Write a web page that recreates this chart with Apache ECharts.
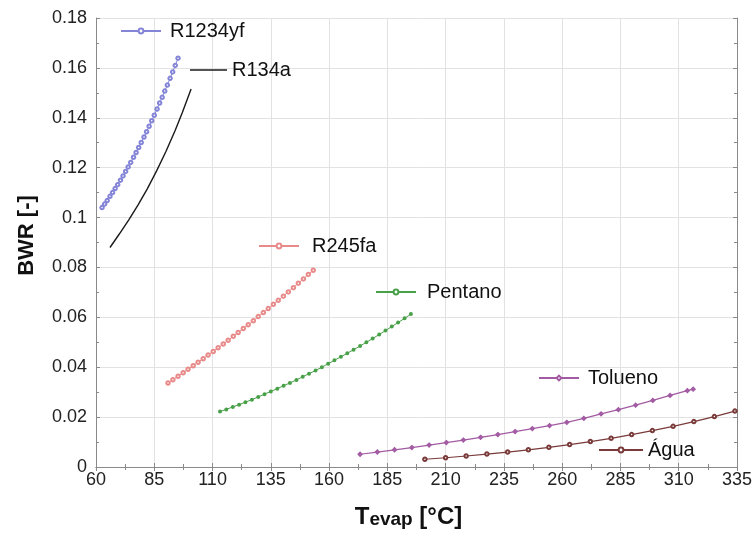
<!DOCTYPE html>
<html>
<head>
<meta charset="utf-8">
<script src="https://cdn.jsdelivr.net/npm/echarts@6/dist/echarts.min.js"></script>
<style>html,body{margin:0;padding:0;background:#fff;}#c{width:755px;height:535px;}</style>
</head>
<body>
<div id="c"></div>
<script>
// ---- data ----
const xTicks = [60, 85, 110, 135, 160, 185, 210, 235, 260, 285, 310, 335];
const yTicks = [0, 0.02, 0.04, 0.06, 0.08, 0.1, 0.12, 0.14, 0.16, 0.18];

const r1234yfT = [62.6,63.7,64.8,66.0,67.1,68.2,69.3,70.5,71.6,72.7,73.8,74.9,76.1,77.2,78.3,79.4,80.6,81.7,82.8,83.9,85.0,86.2,87.3,88.4,89.5,90.6,91.8,92.9,94.0,95.2];
const r1234yfV = [0.1040,0.1054,0.1068,0.1085,0.1100,0.1116,0.1132,0.1150,0.1167,0.1185,0.1203,0.1221,0.1242,0.1261,0.1281,0.1301,0.1323,0.1344,0.1366,0.1388,0.1410,0.1435,0.1459,0.1482,0.1507,0.1531,0.1558,0.1584,0.1610,0.1639];

const r134aT = [66.0,70.0,74.0,78.0,82.0,86.0,90.0,94.0,97.0,100.8];
const r134aV = [0.0880,0.0934,0.0990,0.1050,0.1115,0.1187,0.1265,0.1350,0.1420,0.1515];

const r245faT = [90.9,93.0,95.2,97.4,99.5,101.7,103.8,106.0,108.1,110.3,112.4,114.6,116.7,118.9,121.0,123.2,125.3,127.5,129.6,131.8,133.9,136.1,138.2,140.4,142.5,144.7,146.8,149.0,151.1,153.2];
const r245faV = [0.0337,0.0350,0.0364,0.0378,0.0392,0.0406,0.0420,0.0434,0.0449,0.0463,0.0478,0.0493,0.0508,0.0524,0.0539,0.0555,0.0570,0.0586,0.0603,0.0619,0.0635,0.0652,0.0668,0.0685,0.0702,0.0719,0.0737,0.0754,0.0772,0.0789];

const pentanoT = [113.2,115.9,118.7,121.4,124.1,126.9,129.6,132.3,135.0,137.8,140.5,143.2,146.0,148.7,151.4,154.2,156.9,159.6,162.3,165.1,167.8,170.5,173.3,176.0,178.7,181.5,184.2,186.9,189.6,192.4,195.1];
const pentanoV = [0.0222,0.0231,0.0241,0.0250,0.0260,0.0270,0.0281,0.0292,0.0303,0.0314,0.0326,0.0337,0.0349,0.0362,0.0374,0.0387,0.0400,0.0414,0.0428,0.0442,0.0456,0.0470,0.0485,0.0500,0.0515,0.0531,0.0547,0.0563,0.0579,0.0596,0.0613];

const toluenoT = [173.3,180.7,188.1,195.5,202.9,210.3,217.6,225.0,232.4,239.8,247.2,254.6,262.0,269.3,276.7,284.1,291.5,298.9,306.3,313.7,316.2];
const toluenoV = [0.0051,0.0060,0.0069,0.0078,0.0088,0.0098,0.0108,0.0119,0.0130,0.0142,0.0154,0.0166,0.0179,0.0195,0.0213,0.0230,0.0248,0.0267,0.0287,0.0306,0.0312];

const aguaT = [201.1,210.0,218.8,227.7,236.6,245.5,254.3,263.2,272.1,281.0,289.8,298.7,307.6,316.5,325.3,334.1];
const aguaV = [0.0031,0.0037,0.0044,0.0052,0.0060,0.0069,0.0079,0.0090,0.0102,0.0115,0.0130,0.0146,0.0163,0.0182,0.0202,0.0224];

// ---- chart ----
const zip = (a, b) => a.map((x, i) => [x, b[i]]);
const FONT = 'Liberation Sans, Arial, sans-serif';

function lineSeries(name, T, V, color, symbol, size, showSym, lw) {
  return {
    name, type: 'line', data: zip(T, V), smooth: false,
    symbol: showSym ? symbol : 'none', symbolSize: size, showSymbol: showSym,
    lineStyle: { color, width: lw },
    itemStyle: { color, borderColor: color, borderWidth: 0.8 },
    emphasis: { disabled: true }, animation: false, clip: false
  };
}

const series = [
  lineSeries('R1234yf', r1234yfT, r1234yfV, '#8585d8', 'emptyCircle', 3.5, true, 1),
  lineSeries('R134a', r134aT, r134aV, '#1a1a1a', 'none', 0, false, 1.4),
  lineSeries('R245fa', r245faT, r245faV, '#e98a8a', 'emptyCircle', 3.5, true, 1),
  lineSeries('Pentano', pentanoT, pentanoV, '#48a048', 'emptyCircle', 2, true, 1),
  lineSeries('Tolueno', toluenoT, toluenoV, '#a25aa2', 'emptyDiamond', 3, true, 1.2),
  lineSeries('Água', aguaT, aguaV, '#7a3a3a', 'emptyCircle', 3.5, true, 1.2)
];

// [left, centre y, icon width, gap to text]
const legendPos = {
  'R1234yf': [120, 32, 40, 10],
  'R134a': [190, 71, 37, 5],
  'R245fa': [258, 247, 40, 14],
  'Pentano': [375, 293, 40, 12],
  'Tolueno': [538, 379, 40, 10],
  'Água': [598, 451, 44, 4]
};
const legends = Object.keys(legendPos).map(n => {
  const p = legendPos[n];
  return {
    data: [n === 'R134a'
      ? { name: n, icon: 'rect', itemStyle: { color: '#1a1a1a', borderWidth: 0 } }
      : n],
    left: p[0], top: p[1] - 11,
    padding: 0, itemWidth: p[2], itemHeight: n === 'R134a' ? 1.4 : 6, itemGap: 0,
    selectedMode: false,
    textStyle: { fontFamily: FONT, fontSize: 20, color: '#111', padding: [0, 0, 0, Math.max(0, p[3] - 6)] }
  };
});

const axisCommon = {
  type: 'value',
  axisLine: { show: true, lineStyle: { color: '#8a8a8a', width: 1 } },
  axisTick: { show: true, inside: true, length: 4, lineStyle: { color: '#8a8a8a' } },
  minorTick: { show: true, splitNumber: 2, length: 3, lineStyle: { color: '#8a8a8a' } },
  splitLine: { show: true, lineStyle: { color: '#e2e2e2', width: 1 } }
};

const option = {
  animation: false,
  backgroundColor: '#ffffff',
  grid: { left: 96, right: 18, top: 18, bottom: 68, containLabel: false },
  legend: legends,
  xAxis: [
    Object.assign({}, axisCommon, {
      min: xTicks[0], max: xTicks[xTicks.length - 1], interval: 25,
      axisLabel: { fontFamily: FONT, fontSize: 18, color: '#222', margin: 4 },
      name: '{a|T}{b|evap}{a| [°C]}', nameLocation: 'middle', nameGap: 38,
      nameTextStyle: {
        padding: [0, 16, 0, 0],
        rich: {
          a: { fontFamily: FONT, fontSize: 24, fontWeight: 'bold', color: '#111', verticalAlign: 'top', lineHeight: 24 },
          b: { fontFamily: FONT, fontSize: 19, fontWeight: 'bold', color: '#111', verticalAlign: 'bottom', lineHeight: 24, padding: [12, 0, 0, 0] }
        }
      }
    }),
    Object.assign({}, axisCommon, {
      position: 'top', min: xTicks[0], max: xTicks[xTicks.length - 1], interval: 25,
      axisLabel: { show: false }, splitLine: { show: false }
    })
  ],
  yAxis: [
    Object.assign({}, axisCommon, {
      min: yTicks[0], max: yTicks[yTicks.length - 1], interval: 0.02,
      axisLabel: { fontFamily: FONT, fontSize: 18, color: '#222', margin: 9 },
      name: 'BWR [-]', nameLocation: 'middle', nameGap: 58, nameRotate: 90,
      nameTextStyle: { fontFamily: FONT, fontSize: 22, fontWeight: 'bold', color: '#111', padding: [0, 0, 0, 14] }
    }),
    Object.assign({}, axisCommon, {
      position: 'right', min: yTicks[0], max: yTicks[yTicks.length - 1], interval: 0.02,
      axisLabel: { show: false }, splitLine: { show: false }
    })
  ],
  series
};

const chart = echarts.init(document.getElementById('c'), null, { renderer: 'canvas' });
chart.setOption(option);
</script>
</body>
</html>
